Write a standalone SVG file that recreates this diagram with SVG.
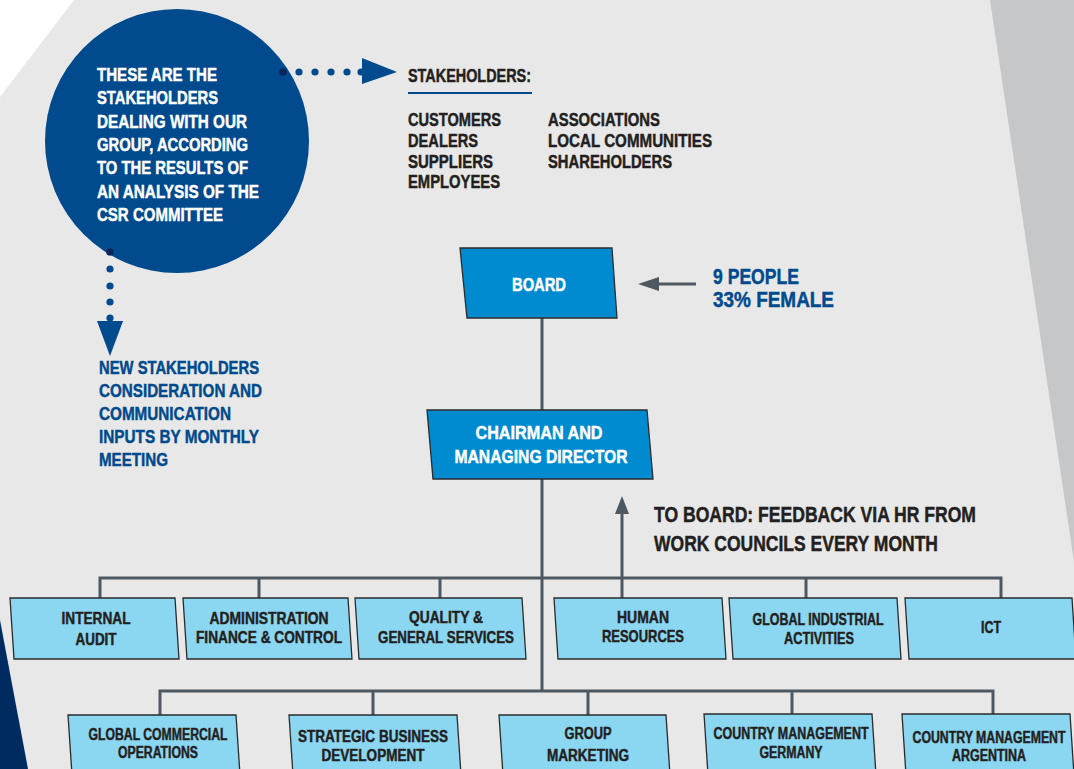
<svg xmlns="http://www.w3.org/2000/svg" width="1074" height="769" viewBox="0 0 1074 769">
<style>
text{font-family:"Liberation Sans",Arial,sans-serif;font-weight:bold;stroke-width:0.45px}
.w{fill:#ffffff;stroke:#ffffff}
.navy{fill:#004a8d;stroke:#004a8d}
.dk{fill:#231f20;stroke:#231f20}
.mid{text-anchor:middle}
.c18{font-size:18.5px}
.list{font-size:18px}
.big{font-size:21.5px}
.t1{font-size:16.5px}
.t2{font-size:16px}
.boxd{fill:#008bd0;stroke:#2b2b2b;stroke-width:1.3}
.boxl{fill:#8bd6f0;stroke:#2b2b2b;stroke-width:1.3}
.con{fill:none;stroke:#4d5861;stroke-width:3}
.arr{fill:#4d5861}
.dot{fill:#004a8d}
.dot0{fill:#0b2559}
</style>
<rect x="0" y="0" width="1074" height="769" fill="#e8e8e8"/>
<polygon points="0,0 74,0 0,97" fill="#ffffff"/>
<polygon points="990,0 1200,0 1200,769 1105,769" fill="#c6c7c9"/>
<polygon points="0,620 28,769 0,769" fill="#002b60"/>

<g id="intro-circle">
<circle cx="177" cy="141" r="132" fill="#004a8d"/>
<text class="w c18" x="97" y="81" textLength="120" lengthAdjust="spacingAndGlyphs">THESE ARE THE</text>
<text class="w c18" x="97" y="104.3" textLength="121" lengthAdjust="spacingAndGlyphs">STAKEHOLDERS</text>
<text class="w c18" x="97" y="127.6" textLength="150" lengthAdjust="spacingAndGlyphs">DEALING WITH OUR</text>
<text class="w c18" x="97" y="151" textLength="151" lengthAdjust="spacingAndGlyphs">GROUP, ACCORDING</text>
<text class="w c18" x="97" y="174" textLength="151" lengthAdjust="spacingAndGlyphs">TO THE RESULTS OF</text>
<text class="w c18" x="97" y="197.5" textLength="162" lengthAdjust="spacingAndGlyphs">AN ANALYSIS OF THE</text>
<text class="w c18" x="97" y="220.8" textLength="126" lengthAdjust="spacingAndGlyphs">CSR COMMITTEE</text>
</g>

<g id="stakeholders-list">
<text class="dk list" x="408" y="82" textLength="123" lengthAdjust="spacingAndGlyphs">STAKEHOLDERS:</text>
<line x1="408" y1="93" x2="532" y2="93" stroke="#004a8d" stroke-width="2"/>
<text class="dk list" x="408" y="126" textLength="93" lengthAdjust="spacingAndGlyphs">CUSTOMERS</text>
<text class="dk list" x="408" y="147" textLength="70" lengthAdjust="spacingAndGlyphs">DEALERS</text>
<text class="dk list" x="408" y="167.5" textLength="85" lengthAdjust="spacingAndGlyphs">SUPPLIERS</text>
<text class="dk list" x="408" y="188" textLength="92" lengthAdjust="spacingAndGlyphs">EMPLOYEES</text>
<text class="dk list" x="548" y="126" textLength="112" lengthAdjust="spacingAndGlyphs">ASSOCIATIONS</text>
<text class="dk list" x="548" y="147" textLength="164" lengthAdjust="spacingAndGlyphs">LOCAL COMMUNITIES</text>
<text class="dk list" x="548" y="167.5" textLength="124" lengthAdjust="spacingAndGlyphs">SHAREHOLDERS</text>
</g>

<g id="new-stakeholders-note">
<text class="navy c18" x="99" y="374" textLength="160" lengthAdjust="spacingAndGlyphs">NEW STAKEHOLDERS</text>
<text class="navy c18" x="99" y="397" textLength="163" lengthAdjust="spacingAndGlyphs">CONSIDERATION AND</text>
<text class="navy c18" x="99" y="420" textLength="132" lengthAdjust="spacingAndGlyphs">COMMUNICATION</text>
<text class="navy c18" x="99" y="443" textLength="160" lengthAdjust="spacingAndGlyphs">INPUTS BY MONTHLY</text>
<text class="navy c18" x="99" y="466" textLength="69" lengthAdjust="spacingAndGlyphs">MEETING</text>
</g>

<g id="board-note">
<text class="navy big" x="713" y="284" textLength="86" lengthAdjust="spacingAndGlyphs">9 PEOPLE</text>
<text class="navy big" x="713" y="307" textLength="121" lengthAdjust="spacingAndGlyphs">33% FEMALE</text>
</g>

<g id="feedback-note">
<text class="dk big" x="654" y="522" textLength="322" lengthAdjust="spacingAndGlyphs">TO BOARD: FEEDBACK VIA HR FROM</text>
<text class="dk big" x="654" y="551" textLength="284" lengthAdjust="spacingAndGlyphs">WORK COUNCILS EVERY MONTH</text>
</g>

<g id="connectors">
<circle class="dot0" cx="283" cy="72" r="3.8"/>
<circle class="dot" cx="299" cy="72" r="3.6"/>
<circle class="dot" cx="315" cy="72" r="3.6"/>
<circle class="dot" cx="331" cy="72" r="3.6"/>
<circle class="dot" cx="347" cy="72" r="3.6"/>
<circle class="dot" cx="361" cy="72" r="3.6"/>
<polygon class="dot" points="362,58 397,72 362,84"/>
<circle class="dot0" cx="110" cy="252" r="3.8"/>
<circle class="dot" cx="110" cy="269" r="3.6"/>
<circle class="dot" cx="110" cy="286" r="3.6"/>
<circle class="dot" cx="110" cy="302" r="3.6"/>
<circle class="dot" cx="110" cy="318" r="3.6"/>
<polygon class="dot" points="97,321 123,321 110,356"/>
<line class="con" x1="696" y1="284" x2="654" y2="284"/>
<polygon class="arr" points="638,284 659,277 659,291"/>
<line class="con" x1="622" y1="598" x2="622" y2="510"/>
<polygon class="arr" points="622,496 615,514 629,514"/>
<line class="con" x1="542" y1="318" x2="542" y2="410"/>
<line class="con" x1="542" y1="479" x2="542" y2="691"/>
<polyline class="con" points="100,598 100,578 1001,578 1001,598"/>
<line class="con" x1="259" y1="578" x2="259" y2="598"/>
<line class="con" x1="440" y1="578" x2="440" y2="598"/>
<line class="con" x1="806" y1="578" x2="806" y2="598"/>
<polyline class="con" points="160,715 160,691 993,691 993,715"/>
<line class="con" x1="373" y1="691" x2="373" y2="715"/>
<line class="con" x1="588" y1="691" x2="588" y2="715"/>
<line class="con" x1="792" y1="691" x2="792" y2="715"/>
</g>

<g id="board">
<polygon class="boxd" points="460,248 612,248 617,318 467,318"/>
<text class="w mid" x="539" y="291" font-size="19" textLength="54" lengthAdjust="spacingAndGlyphs">BOARD</text>
</g>

<g id="chairman">
<polygon class="boxd" points="427,410 647,410 653,479 433,479"/>
<text class="w mid" x="539" y="439" font-size="19" textLength="127" lengthAdjust="spacingAndGlyphs">CHAIRMAN AND</text>
<text class="w mid" x="541" y="463" font-size="19" textLength="173" lengthAdjust="spacingAndGlyphs">MANAGING DIRECTOR</text>
</g>

<g id="internal-audit">
<polygon class="boxl" points="10,598 175,598 179,659 14,659"/>
<text class="dk t1 mid" x="96" y="624" textLength="69" lengthAdjust="spacingAndGlyphs">INTERNAL</text>
<text class="dk t1 mid" x="96" y="645" textLength="41" lengthAdjust="spacingAndGlyphs">AUDIT</text>
</g>
<g id="administration">
<polygon class="boxl" points="183,598 348,598 352,659 187,659"/>
<text class="dk t1 mid" x="269" y="624" textLength="119" lengthAdjust="spacingAndGlyphs">ADMINISTRATION</text>
<text class="dk t1 mid" x="269" y="643" textLength="146" lengthAdjust="spacingAndGlyphs">FINANCE &amp; CONTROL</text>
</g>
<g id="quality">
<polygon class="boxl" points="355,598 522,598 526,659 359,659"/>
<text class="dk t1 mid" x="446" y="623" textLength="74" lengthAdjust="spacingAndGlyphs">QUALITY &amp;</text>
<text class="dk t1 mid" x="446" y="643" textLength="136" lengthAdjust="spacingAndGlyphs">GENERAL SERVICES</text>
</g>
<g id="human-resources">
<polygon class="boxl" points="554,598 722,598 726,659 558,659"/>
<text class="dk t1 mid" x="643" y="623" textLength="52" lengthAdjust="spacingAndGlyphs">HUMAN</text>
<text class="dk t1 mid" x="643" y="642" textLength="82" lengthAdjust="spacingAndGlyphs">RESOURCES</text>
</g>
<g id="global-industrial">
<polygon class="boxl" points="729,598 897,598 901,659 733,659"/>
<text class="dk t1 mid" x="818" y="625" textLength="131" lengthAdjust="spacingAndGlyphs">GLOBAL INDUSTRIAL</text>
<text class="dk t1 mid" x="819" y="644" textLength="70" lengthAdjust="spacingAndGlyphs">ACTIVITIES</text>
</g>
<g id="ict">
<polygon class="boxl" points="905,598 1072,598 1076,659 909,659"/>
<text class="dk t1 mid" x="991" y="633" textLength="20" lengthAdjust="spacingAndGlyphs">ICT</text>
</g>

<g id="global-commercial">
<polygon class="boxl" points="68,715 236,715 240,775 72,775"/>
<text class="dk t2 mid" x="158" y="740" textLength="139" lengthAdjust="spacingAndGlyphs">GLOBAL COMMERCIAL</text>
<text class="dk t2 mid" x="158" y="758" textLength="80" lengthAdjust="spacingAndGlyphs">OPERATIONS</text>
</g>
<g id="strategic-business">
<polygon class="boxl" points="289,715 457,715 461,775 293,775"/>
<text class="dk t2 mid" x="373" y="742" textLength="150" lengthAdjust="spacingAndGlyphs">STRATEGIC BUSINESS</text>
<text class="dk t2 mid" x="373" y="761" textLength="103" lengthAdjust="spacingAndGlyphs">DEVELOPMENT</text>
</g>
<g id="group-marketing">
<polygon class="boxl" points="499,715 666,715 670,775 503,775"/>
<text class="dk t2 mid" x="588" y="739" textLength="47" lengthAdjust="spacingAndGlyphs">GROUP</text>
<text class="dk t2 mid" x="588" y="761" textLength="82" lengthAdjust="spacingAndGlyphs">MARKETING</text>
</g>
<g id="country-germany">
<polygon class="boxl" points="704,714 872,714 876,775 708,775"/>
<text class="dk t2 mid" x="791" y="739" textLength="155" lengthAdjust="spacingAndGlyphs">COUNTRY MANAGEMENT</text>
<text class="dk t2 mid" x="791" y="758" textLength="63" lengthAdjust="spacingAndGlyphs">GERMANY</text>
</g>
<g id="country-argentina">
<polygon class="boxl" points="902,714 1070,714 1074,775 906,775"/>
<text class="dk t2 mid" x="989" y="743" textLength="153" lengthAdjust="spacingAndGlyphs">COUNTRY MANAGEMENT</text>
<text class="dk t2 mid" x="989" y="761" textLength="74" lengthAdjust="spacingAndGlyphs">ARGENTINA</text>
</g>
</svg>
